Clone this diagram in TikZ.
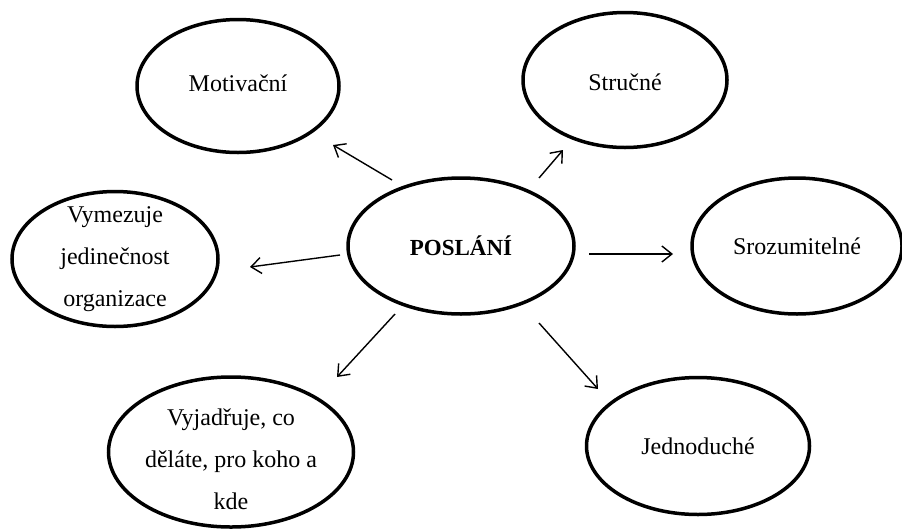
\documentclass[tikz,border=0pt]{standalone}
\usepackage{fontspec}
\setmainfont{Liberation Serif}
\usetikzlibrary{arrows.meta,shapes.geometric}
\tikzset{
  bubble/.style={draw=black, line width=3.5pt, ellipse, inner sep=0pt, outer sep=0pt},
  txt/.style={font=\fontsize{24}{42}\selectfont, align=center, inner sep=0pt, text=black},
  conn/.style={line width=1.4pt, -{Straight Barb[length=10pt,width=16pt,line width=1.4pt]}}
}
\begin{document}
\begin{tikzpicture}[x=1pt,y=-1pt]
\useasboundingbox[fill=white] (0,0) rectangle (902,528);
% ellipses
\node[bubble, minimum width=202pt, minimum height=133pt, label={[txt,yshift=3pt]center:Motivační}] (mot) at (238,86) {};
\node[bubble, minimum width=204pt, minimum height=135pt, label={[txt,yshift=-2pt]center:Stručné}] (str) at (625,80) {};
\node[bubble, minimum width=226pt, minimum height=136pt, label={[txt,font=\fontsize{23}{42}\selectfont\bfseries]center:POSLÁNÍ}] (pos) at (461,246) {};
\node[bubble, minimum width=206pt, minimum height=135pt, label={[txt]center:Vymezuje\\jedinečnost\\organizace}] (vym) at (115,259) {};
\node[bubble, minimum width=210pt, minimum height=136pt, label={[txt]center:Srozumitelné}] (sro) at (797,246) {};
\node[bubble, minimum width=245pt, minimum height=150pt, label={[txt,yshift=-7pt]center:Vyjadřuje, co\\děláte, pro koho a\\kde}] (vyj) at (231,452) {};
\node[bubble, minimum width=223pt, minimum height=137pt, label={[txt]center:Jednoduché}] (jed) at (698,446) {};
% arrow end points
\coordinate (m1) at (392,180); \coordinate (m2) at (333,145);
\coordinate (s1) at (539,178); \coordinate (s2) at (563,150);
\coordinate (v1) at (340,255); \coordinate (v2) at (250,267);
\coordinate (r1) at (589,254); \coordinate (r2) at (673,254);
\coordinate (y1) at (395,314); \coordinate (y2) at (337,377);
\coordinate (j1) at (539,323); \coordinate (j2) at (598,389);
\draw[conn] (m1) -- (m2);
\draw[conn] (s1) -- (s2);
\draw[conn] (v1) -- (v2);
\draw[conn] (r1) -- (r2);
\draw[conn] (y1) -- (y2);
\draw[conn] (j1) -- (j2);
\end{tikzpicture}
\end{document}
